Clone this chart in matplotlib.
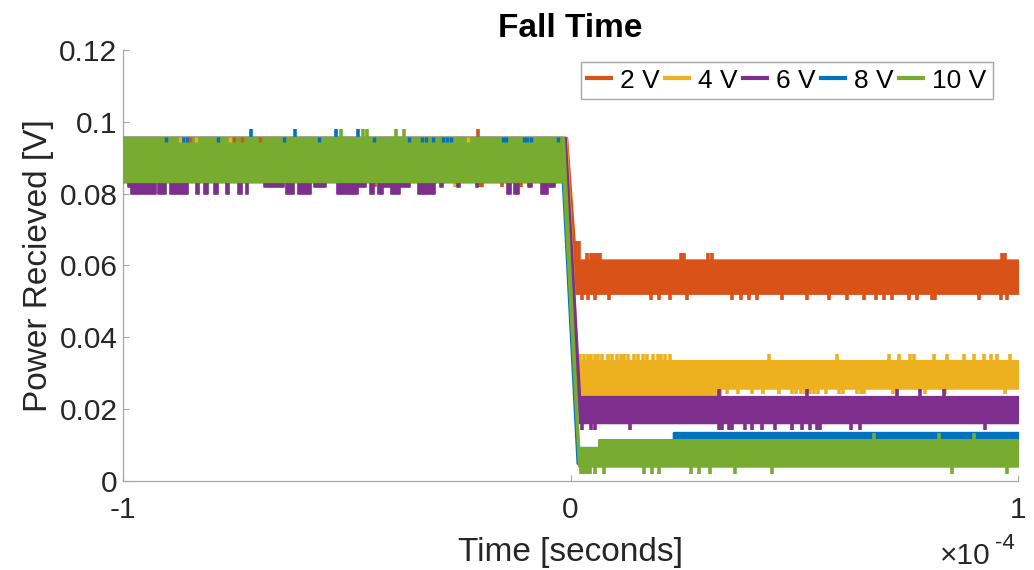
import matplotlib.pyplot as plt

plt.rcParams['font.family'] = ['Liberation Sans', 'DejaVu Sans']

labels = ['2 V', '4 V', '6 V', '8 V', '10 V']
colors = ['#D95319', '#EDB120', '#7E2F8E', '#0072BD', '#77AC30']

# noise band of each trace: knot times (us) and lower / upper edge (V)
band_t = [
    [-100, -0.9, 1.1, 100],
    [-100, -1.0, 1.5, 33.5, 33.5, 100],
    [-100, -1.2, 2.0, 100],
    [-100, -1.8, 1.5, 23.0, 23.0, 100],
    [-100, -1.6, 1.8, 6.3, 6.3, 100],
]
band_lo = [
    [0.0834, 0.0834, 0.0523, 0.0523],
    [0.0834, 0.0834, 0.0241, 0.0241, 0.0259, 0.0259],
    [0.0834, 0.0834, 0.0163, 0.0163],
    [0.0834, 0.0834, 0.0050, 0.0050, 0.0050, 0.0050],
    [0.0834, 0.0834, 0.0042, 0.0042, 0.0042, 0.0042],
]
band_hi = [
    [0.0956, 0.0956, 0.0615, 0.0615],
    [0.0956, 0.0956, 0.0335, 0.0335, 0.0335, 0.0335],
    [0.0956, 0.0956, 0.0235, 0.0235],
    [0.0956, 0.0956, 0.0093, 0.0093, 0.0135, 0.0135],
    [0.0956, 0.0956, 0.0093, 0.0093, 0.0115, 0.0115],
]

# noise spikes: series, band edge (V), spike tip (V), times (us)
spike_idx = [0, 0, 0, 0, 0, 1, 1, 1, 2, 2, 3, 4, 4, 4]
spike_base = [0.0615, 0.0615, 0.0523, 0.0956, 0.0834, 0.0335, 0.0259, 0.0834,
              0.0235, 0.0163, 0.0956, 0.0956, 0.0115, 0.0042]
spike_tip = [0.0668, 0.0636, 0.0503, 0.0981, 0.0818, 0.0355, 0.0241, 0.0818,
             0.0256, 0.0142, 0.0981, 0.0981, 0.0135, 0.0019]
spike_t = [
    [1.3, 1.8],
    [3.7, 4.5, 5.2, 6.0, 6.7, 24.6, 25.3, 30.8, 31.7, 96.5, 97.2],
    [2.5, 4.0, 5.5, 8.6, 17.9, 19.7, 22.3, 26.1, 36.1, 38.0, 39.8, 41.7, 47.3,
     52.9, 57.7, 61.8, 65.5, 68.2, 70.0, 71.9, 75.6, 77.5, 80.8, 81.5, 91.2,
     96.1, 97.6],
    [-20.6],
    [-43.6, -20.3, -19.7, -15.4, -11.0],
    [2.2, 3.0, 3.8, 4.6, 5.4, 6.2, 7.0, 8.4, 9.2, 10.4, 11.2, 12.0, 12.8, 14.3,
     15.1, 16.3, 17.1, 18.5, 19.5, 20.3, 21.1, 22.2, 44.3, 59.6, 71.1, 73.3,
     75.8, 76.8, 81.2, 84.1, 87.9, 90.1, 92.4, 93.9, 95.3, 98.3],
    [35.0, 37.5, 40.5, 43.0, 46.5, 49.5, 50.5, 51.5, 52.3, 53.5, 54.5, 55.2,
     57.0, 60.0, 61.0, 64.0, 65.0, 65.7, 72.0, 79.2, 83.6, 97.2],
    [-38.2, -25.9],
    [33.1, 52.8, 73.0, 78.2, 83.4],
    [2.5, 4.5, 5.5, 13.3, 33.2, 33.9, 35.5, 36.0, 39.0, 40.5, 42.8, 45.8, 49.5,
     51.8, 53.6, 55.0, 55.8, 62.6, 64.8, 92.7],
    [-71.5, -61.5, -52.3, -47.4],
    [-51.4, -46.3, -45.4, -39.1, -37.3],
    [67.8, 82.3, 90.1],
    [2.3, 3.0, 3.7, 4.4, 5.5, 7.5, 16.4, 18.2, 19.8, 26.9, 28.8, 31.2, 36.8,
     45.0, 85.2, 97.6],
]

# other traces peeking through the top edge of the green band (us)
top_idx = [3, 0, 1]
top_t = [
    [-90.5, -86.5, -85.6, -78.7, -64.1, -56.3, -44.0, -36.2, -33.1, -32.4,
     -30.8, -28.4, -27.6, -26.8, -15.0, -14.5, -10.5, -9.7, -8.9, -2.9],
    [-85.0, -75.3, -73.5, -69.3],
    [-87.2, -83.8, -76.0, -23.0],
]

# 6 V trace dipping below the others before the fall (us, V)
dip_start = [-99.0, -98.3, -92.1, -89.4, -83.8, -82.0, -79.6, -77.1, -74.2,
             -72.6, -68.6, -63.5, -61.0, -57.4, -52.1, -49.2, -47.6, -44.7,
             -43.1, -42.7, -40.2, -34.0, -29.1, -25.3, -21.2, -14.1, -12.7,
             -9.6, -6.7, -4.7]
dip_end = [-97.6, -92.7, -90.5, -85.4, -83.1, -81.1, -78.7, -76.4, -73.5,
           -72.0, -64.1, -61.9, -58.1, -54.7, -49.2, -47.6, -45.8, -44.0,
           -42.0, -35.8, -38.0, -30.2, -28.4, -24.6, -20.6, -13.4, -11.6,
           -8.5, -5.1, -3.4]
dip_low = [0.0818, 0.0800, 0.0800, 0.0800, 0.0800, 0.0800, 0.0800, 0.0800,
           0.0800, 0.0800, 0.0818, 0.0800, 0.0800, 0.0818, 0.0800, 0.0800,
           0.0818, 0.0800, 0.0800, 0.0818, 0.0800, 0.0800, 0.0818, 0.0818,
           0.0818, 0.0800, 0.0800, 0.0818, 0.0800, 0.0818]

us = 1e-6
fig = plt.figure(figsize=(10.34, 5.70), dpi=100)
ax = fig.add_axes([0.119, 0.156, 0.8655, 0.7565])

for i in range(5):
    t = [v * us for v in band_t[i]]
    ax.fill_between(t, band_lo[i], band_hi[i], color=colors[i], lw=1.8,
                    zorder=2 + i)
    ax.plot([], [], color=colors[i], lw=3, label=labels[i])

for k in range(len(spike_idx)):
    i = spike_idx[k]
    ax.vlines([v * us for v in spike_t[k]], spike_base[k], spike_tip[k],
              color=colors[i], lw=2.6, zorder=2 + i)

for k in range(len(dip_start)):
    ax.broken_barh([(dip_start[k] * us, (dip_end[k] - dip_start[k]) * us)],
                   (dip_low[k], 0.0834 - dip_low[k]), color=colors[2],
                   lw=1.2, zorder=4)

for k in range(len(top_idx)):
    ax.vlines([v * us for v in top_t[k]], 0.0943, 0.0958,
              color=colors[top_idx[k]], lw=2.4, zorder=8)

ax.set_xlim(-1e-4, 1e-4)
ax.set_ylim(0, 0.12)
ax.set_xticks([-1e-4, 0, 1e-4])
ax.set_xticklabels(['-1', '0', '1'])
ax.set_yticks([0, 0.02, 0.04, 0.06, 0.08, 0.1, 0.12])
ax.set_yticklabels(['0', '0.02', '0.04', '0.06', '0.08', '0.1', '0.12'])

gray = '#a6a6a6'
for s in ['top', 'right']:
    ax.spines[s].set_visible(False)
for s in ['left', 'bottom']:
    ax.spines[s].set_color(gray)
    ax.spines[s].set_linewidth(0.9)
ax.tick_params(direction='in', length=4.5, color=gray, labelsize=21.5,
               labelcolor='#262626')
ax.tick_params(axis='x', pad=11)
ax.tick_params(axis='y', pad=4)

ax.set_title('Fall Time', fontsize=24, fontweight='bold', pad=9)
ax.set_xlabel('Time [seconds]', fontsize=24, color='#262626', labelpad=9)
ax.set_ylabel('Power Recieved [V]', fontsize=24, color='#262626', labelpad=4)

fig.text(0.909, 0.010, '\u00d710', fontsize=21.5, color='#262626')
fig.text(0.962, 0.036, '-4', fontsize=16, color='#262626')

ax.legend(loc='upper right', bbox_to_anchor=(0.972, 0.972), ncol=5,
          fontsize=19, frameon=True, fancybox=False, edgecolor=gray,
          framealpha=1, handlelength=0.9, handletextpad=0.35,
          columnspacing=0.2, borderpad=0.25, borderaxespad=0)

fig.savefig('out.png', dpi=100)
